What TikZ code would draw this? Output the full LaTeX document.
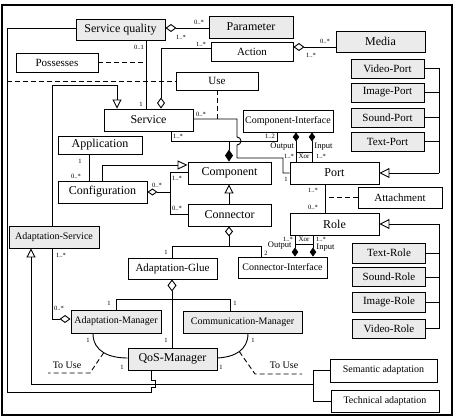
\documentclass[tikz,border=0pt]{standalone}
\usepackage{fontspec}
\setmainfont{Liberation Serif}
\usetikzlibrary{arrows.meta}
\newcommand\bx[7]{\node[#1,minimum width=#5pt,minimum height=#6pt] (#2) at (#3,#4) {#7};}
\tikzset{
  odia/.tip={Diamond[open,length=11pt,width=8pt]},
  fdia/.tip={Diamond[length=9pt,width=6.5pt]},
  otri/.tip={Triangle[open,length=10pt,width=10pt]}}
\begin{document}
\begin{tikzpicture}[x=1pt,y=-1pt,line width=0.9pt,
  box/.style={draw,line width=0.9pt,inner sep=0pt,fill=white},
  gbox/.style={box,fill=black!8},
  f12/.style={font=\fontsize{12}{13}\selectfont},
  f11/.style={font=\fontsize{11}{12}\selectfont},
  f10/.style={font=\fontsize{10}{11}\selectfont},
  ml/.style={font=\fontsize{6.5}{7}\selectfont,inner sep=0pt},
  io/.style={font=\fontsize{8.5}{9}\selectfont,inner sep=0pt},
  xorl/.style={font=\fontsize{7}{8}\selectfont,inner sep=0pt},
  dsh/.style={dash pattern=on 5pt off 3pt}]
\useasboundingbox (0,0) rectangle (456,417);
\draw[line width=1.2pt] (2,5) rectangle (452,415);

% nodes
\bx{gbox,f12}{sq}{120.5}{29.5}{89}{21}{Service quality}
\bx{gbox,f12}{param}{251}{27}{84}{22}{Parameter}
\bx{box,f11}{action}{252}{51.5}{82}{19}{Action}
\bx{gbox,f12}{media}{380.5}{41.5}{89}{21}{Media}
\bx{box,f11}{poss}{57}{62.5}{82}{19}{Possesses}
\bx{box,f11}{use}{217}{81}{82}{18}{Use}
\bx{box,f12}{service}{148.5}{120}{89}{22}{Service}
\bx{box,f10}{ci}{288}{121}{90}{22}{Component-Interface}
\bx{gbox,f11}{vport}{387.5}{68.5}{73}{19}{Video-Port}
\bx{gbox,f11}{iport}{387.5}{92.5}{73}{19}{Image-Port}
\bx{gbox,f11}{sport}{387.5}{117.5}{73}{19}{Sound-Port}
\bx{gbox,f11}{tport}{387.5}{141.5}{73}{19}{Text-Port}
\bx{box,f12}{app}{100}{145}{84}{18}{Application}
\bx{box,f12}{config}{102.5}{192}{89}{22}{Configuration}
\bx{box,f12}{comp}{229.5}{173}{83}{22}{Component}
\bx{box,f12}{port}{334.5}{173}{89}{22}{Port}
\bx{box,f11}{attach}{400}{197.5}{84}{21}{Attachment}
\bx{box,f12}{conn}{229.5}{215}{83}{22}{Connector}
\bx{box,f12}{role}{334.5}{224}{89}{22}{Role}
\bx{gbox,f11}{trole}{389}{253}{73}{20}{Text-Role}
\bx{gbox,f11}{srole}{389}{277}{73}{19}{Sound-Role}
\bx{gbox,f11}{irole}{389}{302}{73}{20}{Image-Role}
\bx{gbox,f11}{vrole}{389}{328.5}{73}{19}{Video-Role}
\bx{gbox,f10}{as}{54}{237}{90}{22}{Adaptation-Service}
\bx{box,f11}{glue}{172.5}{268.5}{89}{21}{Adaptation-Glue}
\bx{box,f10}{cif}{282.5}{267.5}{89}{21}{Connector-Interface}
\bx{gbox,f10}{am}{116}{321.5}{90}{23}{Adaptation-Manager}
\bx{gbox,f10}{cm}{242.5}{322}{119}{22}{Communication-Manager}
\bx{gbox,f12}{qos}{172.5}{359}{89}{22}{QoS-Manager}
\bx{box,f10}{sem}{383.5}{370.5}{107}{23}{Semantic adaptation}
\bx{box,f10}{tech}{385}{401}{108}{22}{Technical adaptation}

% Service quality - Parameter
\draw[{odia}-] (sq.east |- 0,28) -- (param.west |- 0,28);
\node[ml] at (199,22) {0..*};
\node[ml] at (181,37) {1..*};
% Action - Media
\draw[{odia}-] (action.east |- 0,47) -- (media.west |- 0,47);
\node[ml] at (325,41) {0..*};
\node[ml] at (311,55) {1..*};
% Action - Service
\draw[-{odia}] (action.west |- 0,48) -- (161,48) -- (service.north -| 161,0);
\node[ml] at (201,44) {1..*};
% Service quality - Service
\draw (sq.south -| 146,0) -- (service.north -| 146,0);
\node[ml] at (139,47) {0..1};
\node[ml] at (141,104) {1};
% Possesses
\draw[dsh] (poss.east) -- (146,62.5);
% Use
\draw[dsh] (7,81) -- (use.west);
\draw[dsh] (use.south) -- (217,119);
% Service - Port
\draw (service.east |- 0,119) -- (237,119) -- (237,137) arc[start angle=-90,end angle=90,radius=4] -- (237,158) -- (283,158) -- (283,173) -- (port.west);
\node[ml] at (201,114) {0..*};
\node[ml] at (286,179) {1};
% Service - Component-Interface
\draw (service.south -| 171,0) -- (171,141) -- (277,141) -- (ci.south -| 277,0);
\node[ml] at (178,136) {1..*};
\node[ml] at (270,136.5) {1..2};
\draw[-{Diamond[length=12pt,width=8pt]}] (229,141) -- (comp.north -| 229,0);
% Component-Interface - Port
\draw[{fdia}-] (ci.south -| 296,0) -- (port.north -| 296,0);
\draw[{fdia}-] (ci.south -| 312,0) -- (port.north -| 312,0);
\draw (296,152) -- (312,152);
\node[xorl] at (304,156.5) {Xor};
\node[io,anchor=east] at (294.5,147) {Output};
\node[io,anchor=west] at (314,147) {Input};
\node[ml] at (289,156) {1..*};
\node[ml] at (321,156) {1..*};
% Port - Role
\draw (port.south -| 325,0) -- (role.north -| 325,0);
\draw[dsh] (attach.west) -- (325,197.5);
\node[ml] at (313,190) {1..*};
\node[ml] at (313,207) {0..*};
% Port specialisations
\draw (vport.east) -- (439,68.5) -- (439,173);
\draw (iport.east) -- (439,92.5);
\draw (sport.east) -- (439,117.5);
\draw (tport.east) -- (439,141.5);
\draw[-{otri}] (439,173) -- (port.east);
% Role specialisations
\draw[-{otri}] (439,224) -- (role.east);
\draw (439,224) -- (439,328.5) -- (vrole.east);
\draw (trole.east) -- (439,253);
\draw (srole.east) -- (439,277);
\draw (irole.east) -- (439,302);
% Configuration
\draw[{Diamond[open,length=10pt,width=7pt]}-] (config.east) -- (170,192);
\draw (comp.west |- 0,172) -- (170,172) -- (170,214) -- (conn.west |- 0,214);
\node[ml] at (157,185) {0..*};
\node[ml] at (177,178) {1..*};
\node[ml] at (177,208) {0..*};
\draw[-{Triangle[open,length=10pt,width=9pt]}] (config.north -| 102,0) -- (102,165) -- (comp.west |- 0,165);
% Application - Configuration
\draw (app.south -| 89,0) -- (config.north -| 89,0);
\node[ml] at (80,161) {1};
\node[ml] at (76,176) {0..*};
% Connector - Component
\draw[-{Triangle[open,length=9pt,width=9pt]}] (conn.north -| 229,0) -- (comp.south -| 229,0);
% Connector composition
\draw[{Diamond[open,length=10pt,width=8pt]}-] (conn.south -| 229,0) -- (229,246);
\draw (glue.north -| 172,0) -- (172,246) -- (261,246) -- (cif.north -| 261,0);
\node[ml] at (166,252) {1};
\node[ml] at (266,253) {2};
% Role - Connector-Interface
\draw[-{fdia}] (role.south -| 295,0) -- (cif.north -| 295,0);
\draw[-{fdia}] (role.south -| 313,0) -- (cif.north -| 313,0);
\draw (295,244) -- (313,244);
\node[xorl] at (304,239.5) {Xor};
\node[io,anchor=east] at (292,246) {Output};
\node[io,anchor=west] at (316,248) {Input};
\node[ml] at (288,239) {1..*};
\node[ml] at (321,239) {1..*};
% Adaptation-Glue - QoS
\draw[{Diamond[open,length=12pt,width=9pt]}-] (glue.south -| 172,0) -- (qos.north -| 172,0);
\node[ml] at (166,340) {1};
\draw (am.north -| 116,0) -- (116,299) -- (230,299) -- (cm.north -| 230,0);
\node[ml] at (109,303) {1};
\node[ml] at (235,303) {1};
% curves
\draw (am.south -| 93,0) .. controls (93,352) and (110,358) .. (qos.west |- 0,358) coordinate[pos=0.5] (lc);
\draw (cm.south -| 248,0) .. controls (248,350) and (235,357) .. (qos.east |- 0,358) coordinate[pos=0.5] (rc);
\node[ml] at (88,340) {1};
\node[ml] at (122,367) {1};
\node[ml] at (253,340) {1};
\node[ml] at (221,367) {1};
\draw[dsh] (lc) -- (90,373) -- (48,373);
\node[f10] at (67,365) {To Use};
\draw[dsh] (rc) -- (255,374) -- (302,374);
\node[f10] at (284,365) {To Use};
% Adaptation-Service
\draw[-{Triangle[open,length=9pt,width=9pt]}] (as.north -| 52,0) -- (52,85) -- (117,85) -- (service.north -| 117,0);
\draw[-{odia}] (as.south -| 52,0) -- (52,319) -- (am.west |- 0,319);
\node[ml] at (61,255) {1..*};
\node[ml] at (59,308) {0..*};
% bottom
\draw[-{Triangle[open,length=9pt,width=9pt]}] (313,384) -- (31,384) -- (as.south -| 31,0);
\draw (sq.west |- 0,28) -- (7,28) -- (7,392) -- (151,392) -- (151,387) -- (155,387) -- (155,380) -- (151,380) -- (qos.south -| 151,0);
\draw (sem.west) -- (313,370.5) -- (313,401) -- (tech.west);
\end{tikzpicture}
\end{document}
